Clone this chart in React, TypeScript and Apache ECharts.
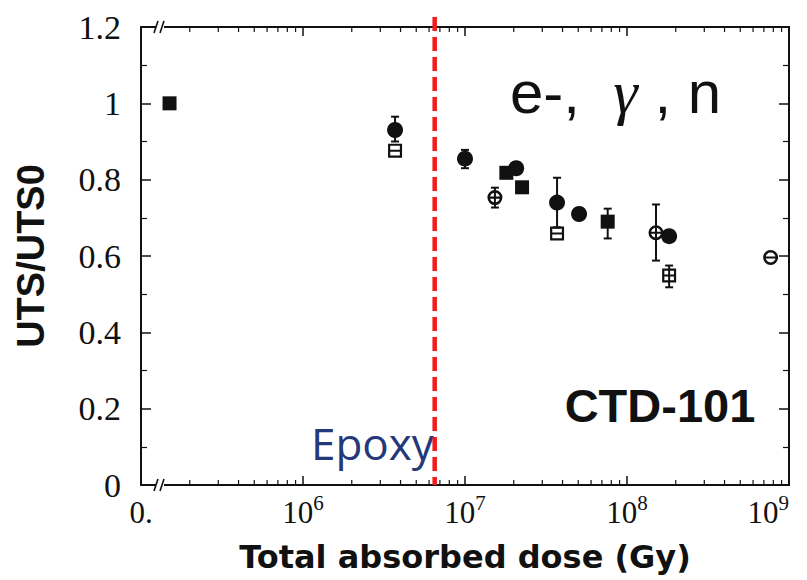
import React, { useEffect, useRef } from "react";
import * as echarts from "echarts";

// Dose axis range (log scale); the left end is drawn as a broken axis labelled "0."
const doseMin = 1e5;
const doseMax = 1e9;
const utsMin = 0;
const utsMax = 1.2;
const utsStep = 0.2;

// Normalised ultimate tensile strength of CTD-101 after irradiation
const filledCircleDose = [3.7e6, 1.0e7, 2.07e7, 3.7e7, 5.06e7, 1.82e8];
const filledCircleUTS = [0.93, 0.855, 0.83, 0.74, 0.71, 0.652];
const filledSquareDose = [1.5e5, 1.8e7, 2.25e7, 7.6e7];
const filledSquareUTS = [1.0, 0.818, 0.78, 0.69];
const openCircleDose = [1.53e7, 1.51e8, 7.7e8];
const openCircleUTS = [0.753, 0.661, 0.596];
const openSquareDose = [3.7e6, 3.7e7, 1.82e8];
const openSquareUTS = [0.876, 0.659, 0.549];

// Error bars
const errDose = [3.7e6, 1.0e7, 2.07e7, 1.53e7, 3.7e7, 7.6e7, 1.51e8, 1.82e8];
const errLow = [0.9, 0.83, 0.815, 0.727, 0.675, 0.646, 0.588, 0.518];
const errHigh = [0.965, 0.878, 0.845, 0.779, 0.805, 0.724, 0.735, 0.575];

// Epoxy dose limit and axis-break position
const epoxyLimitDose = 6.5e6;
const axisBreakDose = 1.31e5;

const INK = "#111";

// log-axis minor ticks (2..9 in every decade)
const minorTickDoses: number[] = [];
for (let e = 5; e < 9; e++) {
  for (let k = 2; k <= 9; k++) minorTickDoses.push(k * Math.pow(10, e));
}

const ringCircle =
  "path://M0,-7A7,7,0,1,1,0,7A7,7,0,1,1,0,-7Z" +
  "M0,-4.6A4.6,4.6,0,1,0,0,4.6A4.6,4.6,0,1,0,0,-4.6Z" +
  "M-4.6,-1L4.6,-1L4.6,1L-4.6,1Z";
const ringSquare =
  "path://M-7,-7L7,-7L7,7L-7,7Z" +
  "M-4.8,-4.8L-4.8,4.8L4.8,4.8L4.8,-4.8Z" +
  "M-4.8,-1L4.8,-1L4.8,1L-4.8,1Z";

const zip = (xs: number[], ys: number[]) => xs.map((x, i) => [x, ys[i]]);

const doseLabel = (v: number) => {
  const e = Math.round(Math.log10(v));
  return e === 5 ? "{z|0.}" : `{b|10}{s|${e}}`;
};

const labelRich = {
  b: { fontFamily: "Liberation Serif", fontSize: 31, lineHeight: 31, color: INK },
  s: { fontFamily: "Liberation Serif", fontSize: 21, lineHeight: 21, padding: [0, 0, 20, 0], color: INK },
  z: { fontFamily: "Liberation Serif", fontSize: 31, lineHeight: 31, padding: [5, 0, 5, 0], color: INK },
};

const axisLine = { show: true, onZero: false, lineStyle: { color: INK, width: 2 } };

const markerStyle = { color: INK, opacity: 1 };

export default function App() {
  const ref = useRef<HTMLDivElement>(null);

  useEffect(() => {
    if (!ref.current) return;
    const chart = echarts.init(ref.current, null, { renderer: "svg" });

    const xCommon = {
      type: "log",
      logBase: 10,
      min: doseMin,
      max: doseMax,
      axisLine,
      axisTick: { show: true, inside: true, length: 9, lineStyle: { color: INK, width: 1.5 } },
      splitLine: { show: false },
    };
    const yCommon = {
      type: "value",
      min: utsMin,
      max: utsMax,
      interval: utsStep,
      axisLine,
      axisTick: { show: true, inside: true, length: 10, lineStyle: { color: INK, width: 1.5 } },
      minorTick: { show: true, splitNumber: 2, length: 6, lineStyle: { color: INK, width: 1.2 } },
      splitLine: { show: false },
      minorSplitLine: { show: false },
    };

    const option: any = {
      animation: false,
      backgroundColor: "#fff",
      grid: { left: 141, right: 18, top: 27, bottom: 95, outerBoundsMode: "none" },
      xAxis: [
        {
          ...xCommon,
          position: "bottom",
          name: "Total absorbed dose (Gy)",
          nameLocation: "middle",
          nameGap: 56,
          nameTextStyle: { fontFamily: "DejaVu Sans", fontWeight: "bold", fontSize: 32, color: INK },
          axisLabel: {
            margin: 12,
            formatter: doseLabel,
            rich: labelRich,
            showMinLabel: true,
            showMaxLabel: true,
            alignMaxLabel: "right",
            hideOverlap: false,
          },
        },
        { ...xCommon, position: "top", axisLabel: { show: false } },
      ],
      yAxis: [
        {
          ...yCommon,
          position: "left",
          name: "UTS/UTS0",
          nameLocation: "middle",
          nameGap: 91,
          nameTextStyle: { fontFamily: "Liberation Sans", fontWeight: "bold", fontSize: 38, color: INK },
          axisLabel: { margin: 20, fontFamily: "Liberation Serif", fontSize: 34, color: INK },
        },
        { ...yCommon, position: "right", axisLabel: { show: false } },
      ],
      series: [
        {
          // log-axis minor ticks on the bottom and top frame
          type: "custom",
          xAxisIndex: 0,
          yAxisIndex: 0,
          silent: true,
          z: 1,
          data: minorTickDoses.map((v) => [v, utsMin]),
          renderItem: (_p: any, api: any) => {
            const v = api.value(0);
            const b = api.coord([v, utsMin]);
            const t = api.coord([v, utsMax]);
            const style = { stroke: INK, lineWidth: 1.2 };
            return {
              type: "group",
              children: [
                { type: "line", shape: { x1: b[0], y1: b[1], x2: b[0], y2: b[1] - 5 }, style },
                { type: "line", shape: { x1: t[0], y1: t[1], x2: t[0], y2: t[1] + 5 }, style },
              ],
            };
          },
        },
        {
          // axis break marks
          type: "custom",
          xAxisIndex: 0,
          yAxisIndex: 0,
          silent: true,
          z: 5,
          data: [[axisBreakDose, utsMin]],
          renderItem: (_p: any, api: any) => {
            const v = api.value(0);
            const pts = [api.coord([v, utsMin]), api.coord([v, utsMax])];
            const children: any[] = [];
            const style = { stroke: INK, lineWidth: 1.6 };
            pts.forEach((p) => {
              children.push({ type: "rect", shape: { x: p[0] - 4, y: p[1] - 2, width: 8, height: 4 }, style: { fill: "#fff" } });
              children.push({ type: "line", shape: { x1: p[0] - 6, y1: p[1] + 6, x2: p[0] - 2, y2: p[1] - 6 }, style });
              children.push({ type: "line", shape: { x1: p[0] + 0, y1: p[1] + 6, x2: p[0] + 4, y2: p[1] - 6 }, style });
            });
            return { type: "group", children };
          },
        },
        {
          // epoxy dose limit
          type: "custom",
          xAxisIndex: 0,
          yAxisIndex: 0,
          silent: true,
          z: 6,
          data: [[epoxyLimitDose, utsMin]],
          renderItem: (_p: any, api: any) => {
            const v = api.value(0);
            const b = api.coord([v, utsMin]);
            const t = api.coord([v, utsMax]);
            return {
              type: "line",
              shape: { x1: t[0], y1: t[1] - 10, x2: b[0], y2: b[1] },
              style: { stroke: "#f21a1a", lineWidth: 4.5, lineDash: [14, 6] },
            };
          },
        },
        {
          type: "custom",
          xAxisIndex: 0,
          yAxisIndex: 0,
          silent: true,
          z: 2,
          encode: { x: 0, y: [1, 2] },
          data: errDose.map((d, i) => [d, errLow[i], errHigh[i]]),
          renderItem: (_p: any, api: any) => {
            const x = api.value(0);
            const a = api.coord([x, api.value(1)]);
            const b = api.coord([x, api.value(2)]);
            const style = { stroke: INK, lineWidth: 2 };
            return {
              type: "group",
              children: [
                { type: "line", shape: { x1: a[0], y1: a[1], x2: b[0], y2: b[1] }, style },
                { type: "line", shape: { x1: a[0] - 4, y1: a[1], x2: a[0] + 4, y2: a[1] }, style },
                { type: "line", shape: { x1: b[0] - 4, y1: b[1], x2: b[0] + 4, y2: b[1] }, style },
              ],
            };
          },
        },
        {
          type: "scatter",
          z: 3,
          symbol: "circle",
          symbolSize: 16,
          itemStyle: markerStyle,
          data: zip(filledCircleDose, filledCircleUTS),
        },
        {
          type: "scatter",
          z: 3,
          symbol: "rect",
          symbolSize: 14,
          itemStyle: markerStyle,
          data: zip(filledSquareDose, filledSquareUTS),
        },
        {
          type: "scatter",
          z: 3,
          symbol: ringCircle,
          symbolSize: 15,
          itemStyle: markerStyle,
          data: zip(openCircleDose, openCircleUTS),
        },
        {
          type: "scatter",
          z: 3,
          symbol: ringSquare,
          symbolSize: 14,
          itemStyle: markerStyle,
          data: zip(openSquareDose, openSquareUTS),
        },
      ],
      graphic: [
        {
          type: "text",
          x: 510,
          y: 92,
          style: {
            text: "{a|e-,  }{g|γ}{a| , n}",
            align: "left",
            verticalAlign: "middle",
            rich: {
              a: { fontFamily: "Liberation Sans", fontSize: 60, fill: INK },
              g: { fontFamily: "Liberation Serif", fontStyle: "italic", fontSize: 62, fill: INK },
            },
          },
        },
        {
          type: "text",
          x: 660,
          y: 405,
          style: {
            text: "CTD-101",
            fontFamily: "Liberation Sans",
            fontWeight: "bold",
            fontSize: 47,
            fill: INK,
            align: "center",
            verticalAlign: "middle",
          },
        },
        {
          type: "text",
          x: 311,
          y: 443,
          style: {
            text: "Epoxy",
            fontFamily: "Open Sans",
            fontSize: 44,
            fill: "#24387a",
            align: "left",
            verticalAlign: "middle",
          },
        },
      ],
    };

    chart.setOption(option);
    return () => chart.dispose();
  }, []);

  return (
    <div
      ref={ref}
      style={{ position: "fixed", left: 0, top: 0, width: 807, height: 580, background: "#fff" }}
    />
  );
}
